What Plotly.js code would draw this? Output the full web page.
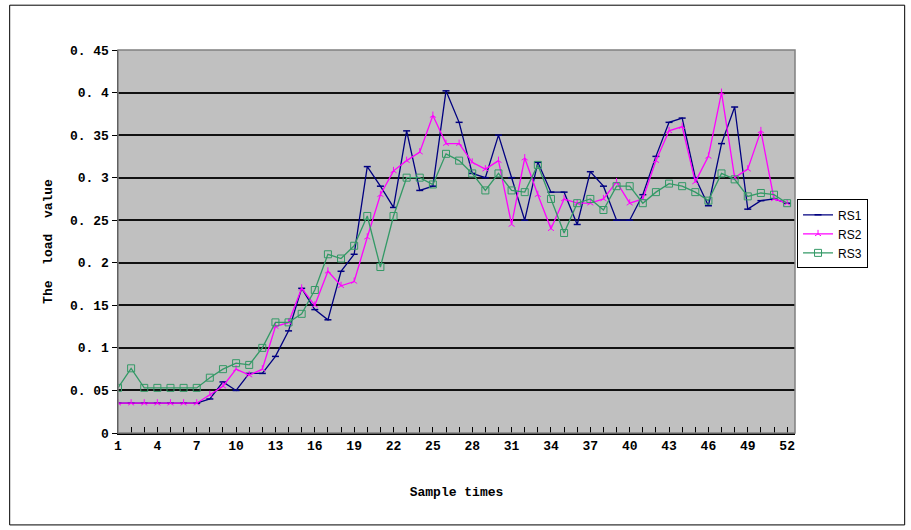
<!DOCTYPE html>
<html>
<head>
<meta charset="utf-8">
<script src="https://cdn.plot.ly/plotly-3.0.1.min.js"></script>
<style>body{margin:0;background:#fff}#chart{width:911px;height:530px}</style>
</head>
<body>
<div id="chart"></div>
<script>
var samples = [];
for (let i = 1; i <= 52; i++) samples.push(i);

var rs1 = [0.035,0.035,0.035,0.035,0.035,0.035,0.035,0.04,0.06,0.05,0.07,0.07,0.09,0.12,0.17,0.145,0.133,0.19,0.21,0.313,
  0.29,0.265,0.355,0.285,0.29,0.402,0.365,0.305,0.3,0.35,0.3,0.25,0.318,0.283,0.283,0.245,0.307,0.29,0.25,0.25,
  0.28,0.325,0.365,0.37,0.3,0.267,0.34,0.383,0.263,0.273,0.275,0.27];
var rs2 = [0.035,0.035,0.035,0.035,0.035,0.035,0.035,0.045,0.055,0.075,0.068,0.075,0.125,0.13,0.17,0.15,0.19,0.173,0.178,0.23,
  0.28,0.308,0.32,0.33,0.373,0.34,0.34,0.318,0.31,0.32,0.245,0.323,0.28,0.24,0.275,0.27,0.27,0.275,0.295,0.27,
  0.275,0.32,0.355,0.36,0.295,0.325,0.4,0.3,0.31,0.355,0.275,0.27];
var rs3 = [0.053,0.076,0.053,0.053,0.053,0.053,0.053,0.065,0.075,0.082,0.08,0.1,0.13,0.13,0.14,0.168,0.21,0.205,0.22,0.255,
  0.195,0.255,0.3,0.3,0.292,0.328,0.32,0.305,0.285,0.305,0.285,0.283,0.315,0.275,0.235,0.27,0.275,0.262,0.29,0.29,
  0.27,0.283,0.293,0.29,0.283,0.273,0.305,0.298,0.278,0.282,0.28,0.27];

var xLabels = [1,4,7,10,13,16,19,22,25,28,31,34,37,40,43,46,49,52];
var yVals = [0,0.05,0.1,0.15,0.2,0.25,0.3,0.35,0.4,0.45];
var yText = ["0","0. 05","0. 1","0. 15","0. 2","0. 25","0. 3","0. 35","0. 4","0. 45"];

var traces = [
  {x: samples, y: rs1, name: 'RS1', mode: 'lines+markers', line: {color: '#000080', width: 1.3},
   marker: {symbol: 'line-ew-open', size: 5, color: '#000080', line: {width: 1.5, color: '#000080'}}},
  {x: samples, y: rs2, name: 'RS2', mode: 'lines+markers', line: {color: '#ff00ff', width: 1.3},
   marker: {symbol: 'y-up-open', size: 5, color: '#ff00ff', line: {width: 1, color: '#ff00ff'}}},
  {x: samples, y: rs3, name: 'RS3', mode: 'lines+markers', line: {color: '#339966', width: 1.3},
   marker: {symbol: 'square-open', size: 7, color: '#339966', line: {width: 1, color: '#339966'}}}
];

var layout = {
  width: 911, height: 530,
  margin: {l: 118, r: 116, t: 50, b: 97},
  paper_bgcolor: '#fff',
  plot_bgcolor: '#c0c0c0',
  font: {family: 'Liberation Mono, DejaVu Sans Mono, monospace', size: 13, color: '#000', weight: 'bold'},
  xaxis: {
    range: [1, 52.6], tickvals: xLabels, ticks: 'inside', ticklen: 6, tickcolor: '#000',
    minor: {dtick: 1, ticks: 'inside', ticklen: 6, tickcolor: '#000'},
    showgrid: false, zeroline: false, showline: true, linecolor: '#000', linewidth: 1.5,
    tickfont: {size: 13, weight: 'bold'},
    title: {text: 'Sample times', standoff: 34, font: {size: 13, weight: 'bold'}}
  },
  yaxis: {
    range: [0, 0.45], tickvals: yVals, ticktext: yText, ticks: 'outside', ticklen: 5, tickcolor: '#000',
    showgrid: true, gridcolor: '#111', gridwidth: 2, zeroline: false,
    showline: true, linecolor: '#000', linewidth: 1.5,
    tickfont: {size: 13, weight: 'bold'},
    title: {text: 'The  load  value', standoff: 14, font: {size: 13, weight: 'bold'}}
  },
  legend: {
    x: 1.003, y: 0.61, xanchor: 'left', yanchor: 'top',
    bgcolor: '#fff', bordercolor: '#000', borderwidth: 1,
    font: {family: 'Liberation Sans, Arial', size: 12, weight: 'normal'}, tracegroupgap: 8
  },
  shapes: [
    {type: 'rect', xref: 'paper', yref: 'paper', x0: 0, x1: 1, y0: 0, y1: 1, line: {color: '#808080', width: 1.5}},
    {type: 'rect', xref: 'paper', yref: 'paper', x0: -0.16, x1: 1.162, y0: -0.24, y1: 1.117, line: {color: '#000', width: 1}}
  ]
};

Plotly.newPlot('chart', traces, layout, {staticPlot: true, responsive: false});
</script>
</body>
</html>
